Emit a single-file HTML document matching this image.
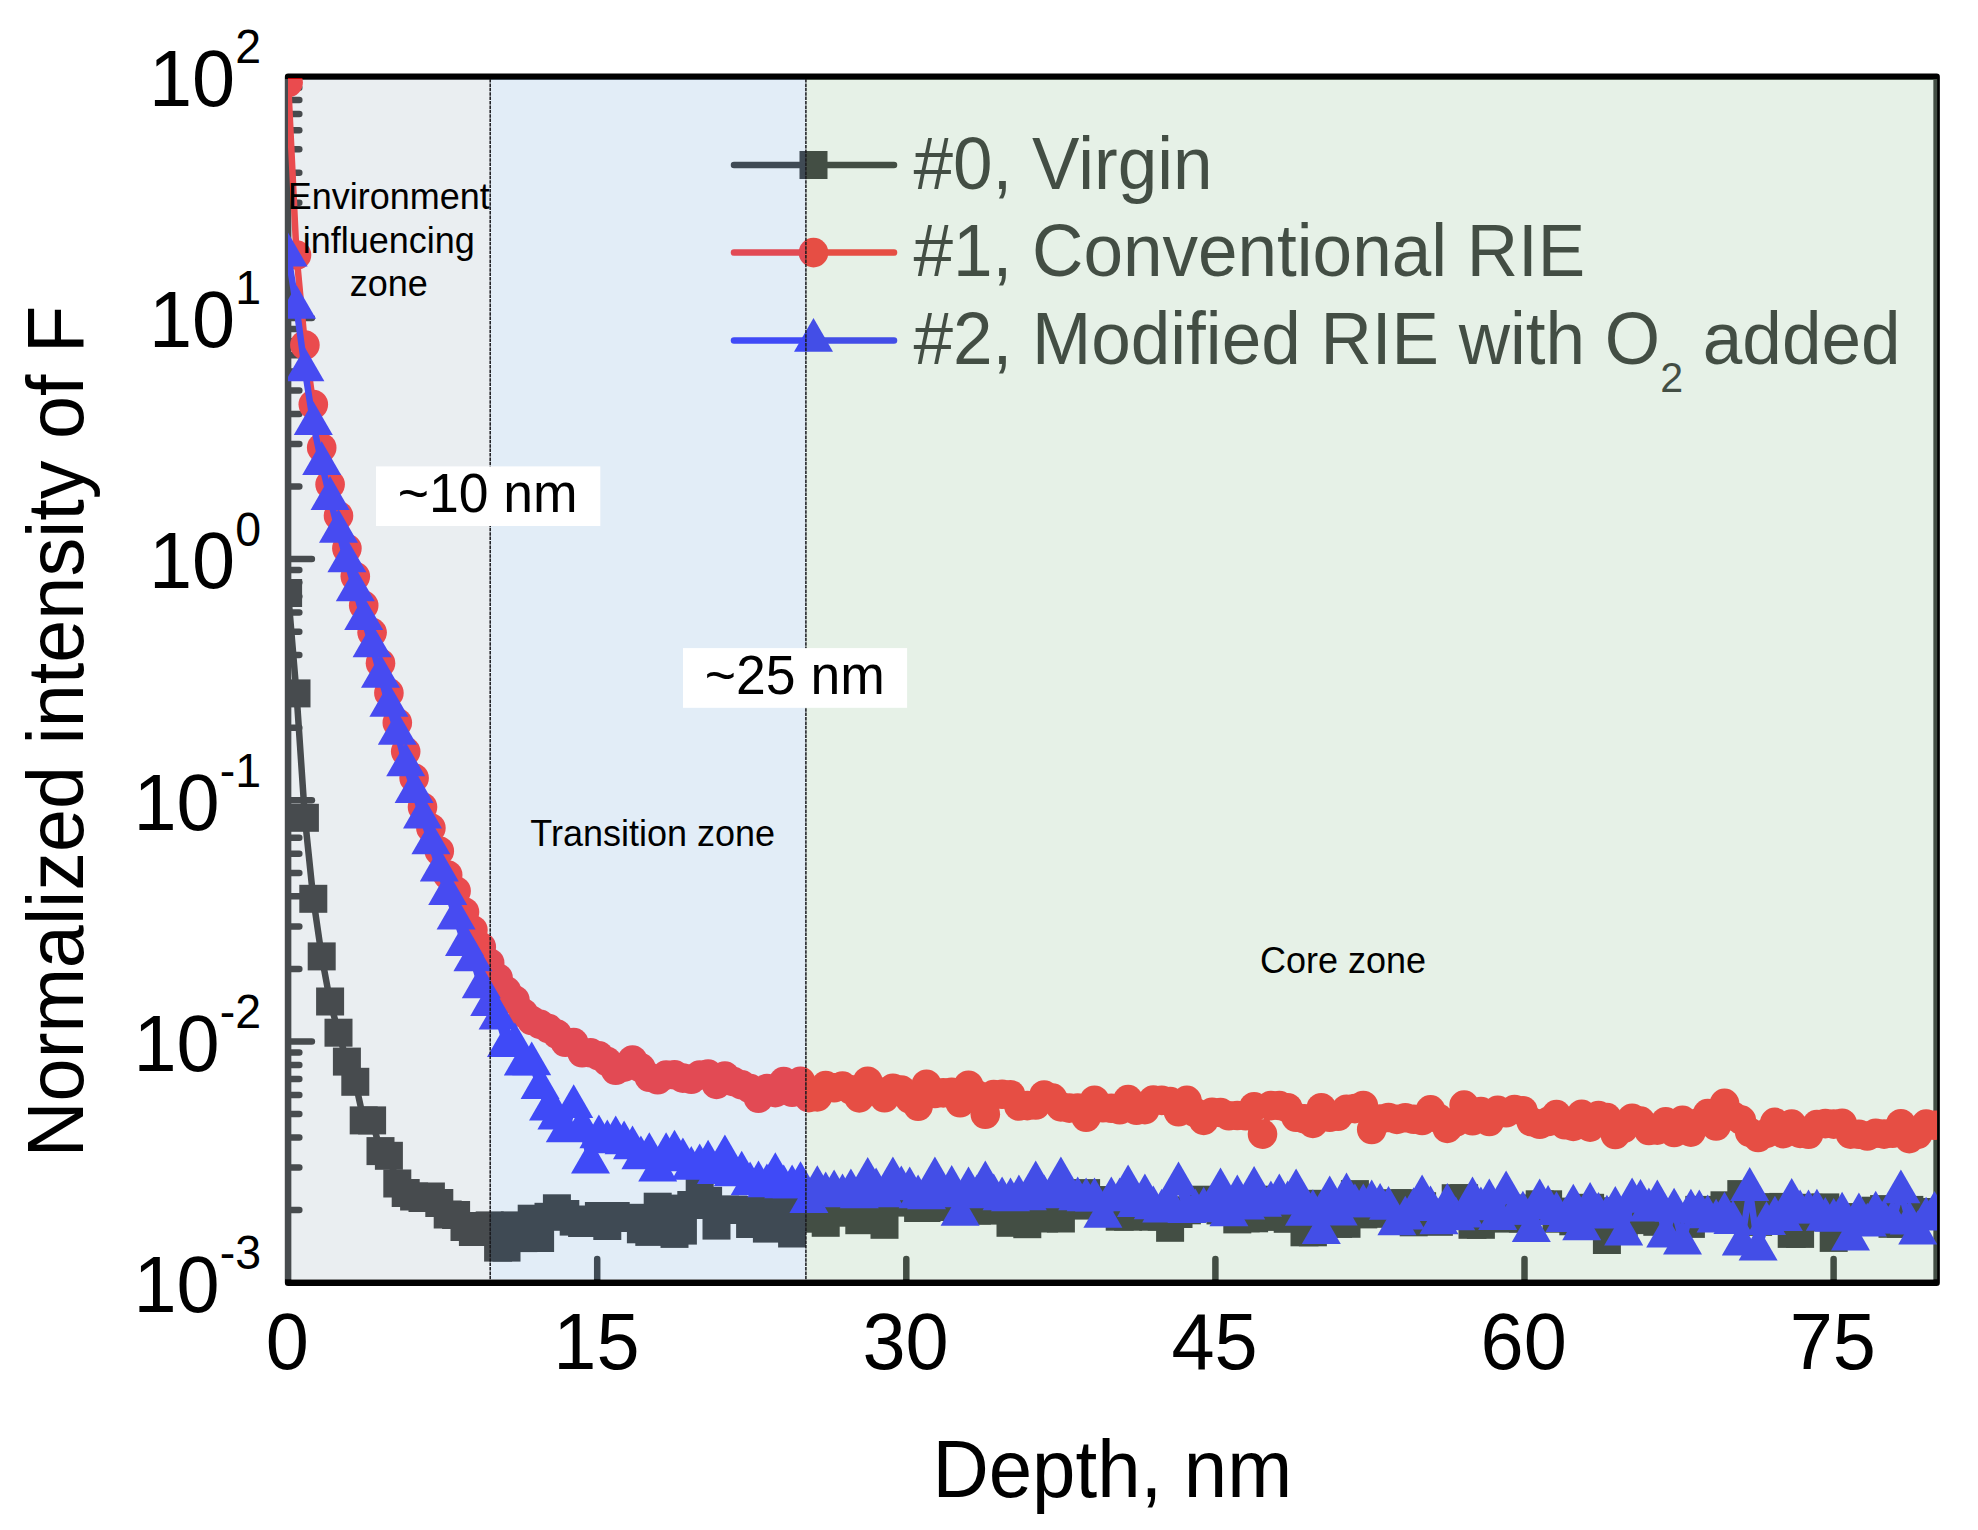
<!DOCTYPE html>
<html lang="en"><head><meta charset="utf-8"><title>Normalized intensity of F vs depth</title>
<style>html,body{margin:0;padding:0;background:#fff}body{width:1978px;height:1530px;overflow:hidden}svg{display:block}text{font-family:"Liberation Sans", Arial, Helvetica, sans-serif;}</style></head><body>
<svg width="1978" height="1530" viewBox="0 0 1978 1530">
<rect width="1978" height="1530" fill="#fff"/>
<defs><clipPath id="pc"><rect x="288.0" y="78.2" width="1649.0" height="1202.8"/></clipPath></defs>
<g stroke="#000" stroke-width="6.5" fill="none" stroke-linecap="round" stroke-linejoin="round">
<rect x="288.1" y="76.7" width="1648.5" height="1206.0"/>
<path d="M290.1 245.3H299.3"/>
<path d="M290.1 202.8H299.3"/>
<path d="M290.1 172.7H299.3"/>
<path d="M290.1 149.3H299.3"/>
<path d="M290.1 130.2H299.3"/>
<path d="M290.1 114.1H299.3"/>
<path d="M290.1 100.1H299.3"/>
<path d="M290.1 87.7H299.3"/>
<path d="M290.1 317.9H311.9"/>
<path d="M290.1 486.5H299.3"/>
<path d="M290.1 444.0H299.3"/>
<path d="M290.1 413.9H299.3"/>
<path d="M290.1 390.5H299.3"/>
<path d="M290.1 371.4H299.3"/>
<path d="M290.1 355.3H299.3"/>
<path d="M290.1 341.3H299.3"/>
<path d="M290.1 328.9H299.3"/>
<path d="M290.1 559.1H311.9"/>
<path d="M290.1 727.7H299.3"/>
<path d="M290.1 685.2H299.3"/>
<path d="M290.1 655.1H299.3"/>
<path d="M290.1 631.7H299.3"/>
<path d="M290.1 612.6H299.3"/>
<path d="M290.1 596.5H299.3"/>
<path d="M290.1 582.5H299.3"/>
<path d="M290.1 570.1H299.3"/>
<path d="M290.1 800.3H311.9"/>
<path d="M290.1 968.9H299.3"/>
<path d="M290.1 926.4H299.3"/>
<path d="M290.1 896.3H299.3"/>
<path d="M290.1 872.9H299.3"/>
<path d="M290.1 853.8H299.3"/>
<path d="M290.1 837.7H299.3"/>
<path d="M290.1 823.7H299.3"/>
<path d="M290.1 811.3H299.3"/>
<path d="M290.1 1041.5H311.9"/>
<path d="M290.1 1210.1H299.3"/>
<path d="M290.1 1167.6H299.3"/>
<path d="M290.1 1137.5H299.3"/>
<path d="M290.1 1114.1H299.3"/>
<path d="M290.1 1095.0H299.3"/>
<path d="M290.1 1078.9H299.3"/>
<path d="M290.1 1064.9H299.3"/>
<path d="M290.1 1052.5H299.3"/>
<path d="M597.2 1280.7v-21.8"/>
<path d="M906.3 1280.7v-21.8"/>
<path d="M1215.4 1280.7v-21.8"/>
<path d="M1524.5 1280.7v-21.8"/>
<path d="M1833.6 1280.7v-21.8"/>
</g>
<g clip-path="url(#pc)">
<polyline points="288.1,593.0 296.5,693.4 304.9,817.8 313.3,898.8 321.7,956.4 330.1,1001.5 338.5,1032.7 346.9,1061.6 355.3,1081.8 363.7,1120.4 372.1,1120.4 380.5,1151.1 388.9,1155.8 397.3,1183.5 405.7,1193.0 414.1,1196.5 422.5,1198.0 430.9,1196.5 439.3,1203.0 447.7,1214.5 456.1,1215.0 464.5,1227.0 472.9,1232.0 481.3,1226.0 489.7,1225.4 498.1,1247.6 506.5,1247.6 514.9,1225.4 523.3,1238.1 531.7,1218.7 540.1,1238.0 548.5,1216.8 556.9,1208.3 565.3,1214.0 573.7,1221.6 582.1,1223.0 590.5,1219.5 598.9,1216.0 607.3,1226.0 615.7,1216.0 624.1,1218.0 632.5,1217.8 640.9,1229.3 649.3,1231.9 657.7,1206.7 666.1,1208.6 674.5,1233.9 682.9,1230.6 691.3,1205.0 699.7,1192.9 708.1,1200.8 716.5,1225.6 724.9,1209.6 733.3,1209.6 741.7,1210.0 750.1,1224.0 758.5,1210.3 766.9,1228.6 775.3,1210.5 783.7,1228.0 792.1,1233.5 800.5,1212.0 808.9,1218.7 817.3,1215.0 825.7,1222.8 834.1,1212.7 842.5,1212.0 850.9,1210.0 859.3,1220.2 867.7,1212.0 876.1,1212.0 884.5,1224.8 892.9,1200.0 901.3,1202.6 909.7,1198.0 918.1,1208.0 926.5,1208.0 934.9,1206.0 943.3,1207.0 951.7,1205.0 960.1,1208.0 968.5,1207.0 976.9,1210.6 985.3,1210.6 993.7,1208.0 1002.1,1210.0 1010.5,1222.8 1018.9,1214.0 1027.3,1224.2 1035.7,1212.0 1044.1,1218.5 1052.5,1216.0 1060.9,1218.5 1069.3,1203.0 1077.7,1205.6 1086.1,1193.1 1094.5,1204.0 1102.9,1200.2 1111.3,1200.2 1119.7,1216.7 1128.1,1216.7 1136.5,1213.9 1144.9,1212.4 1153.3,1216.7 1161.7,1216.7 1170.1,1227.8 1178.5,1214.0 1186.9,1210.3 1195.3,1203.4 1203.7,1199.7 1212.1,1207.1 1220.5,1210.4 1228.9,1211.5 1237.3,1219.4 1245.7,1218.3 1254.1,1218.3 1262.5,1199.7 1270.9,1216.7 1279.3,1216.7 1287.7,1218.8 1296.1,1211.0 1304.5,1232.3 1312.9,1232.3 1321.3,1203.8 1329.7,1219.5 1338.1,1223.8 1346.5,1223.8 1354.9,1194.1 1363.3,1214.4 1371.7,1213.8 1380.1,1213.2 1388.5,1207.1 1396.9,1203.2 1405.3,1203.2 1413.7,1222.3 1422.1,1206.2 1430.5,1212.7 1438.9,1221.8 1447.3,1214.1 1455.7,1198.2 1464.1,1198.2 1472.5,1224.8 1480.9,1224.8 1489.3,1214.6 1497.7,1216.1 1506.1,1218.6 1514.5,1215.0 1522.9,1218.6 1531.3,1208.5 1539.7,1204.3 1548.1,1204.3 1556.5,1218.7 1564.9,1211.6 1573.3,1221.3 1581.7,1211.9 1590.1,1207.8 1598.5,1219.9 1606.9,1240.0 1615.3,1211.3 1623.7,1223.9 1632.1,1220.1 1640.5,1209.3 1648.9,1216.7 1657.3,1221.8 1665.7,1212.8 1674.1,1221.3 1682.5,1220.0 1690.9,1223.9 1699.3,1209.9 1707.7,1210.3 1716.1,1210.3 1724.5,1205.3 1732.9,1216.7 1741.3,1194.1 1749.7,1213.1 1758.1,1221.9 1766.5,1207.3 1774.9,1207.3 1783.3,1206.9 1791.7,1233.9 1800.1,1233.9 1808.5,1207.8 1816.9,1217.3 1825.3,1207.4 1833.7,1237.9 1842.1,1217.4 1850.5,1217.4 1858.9,1217.4 1867.3,1216.7 1875.7,1210.7 1884.1,1209.1 1892.5,1223.8 1900.9,1223.8 1909.3,1209.9 1917.7,1212.3 1926.1,1212.3 1934.5,1212.3" fill="none" stroke="#000" stroke-width="6.5" stroke-linejoin="round"/>
<g fill="#000">
<rect x="274.1" y="579.0" width="28" height="28"/>
<rect x="282.5" y="679.4" width="28" height="28"/>
<rect x="290.9" y="803.8" width="28" height="28"/>
<rect x="299.3" y="884.8" width="28" height="28"/>
<rect x="307.7" y="942.4" width="28" height="28"/>
<rect x="316.1" y="987.5" width="28" height="28"/>
<rect x="324.5" y="1018.7" width="28" height="28"/>
<rect x="332.9" y="1047.6" width="28" height="28"/>
<rect x="341.3" y="1067.8" width="28" height="28"/>
<rect x="349.7" y="1106.4" width="28" height="28"/>
<rect x="358.1" y="1106.4" width="28" height="28"/>
<rect x="366.5" y="1137.1" width="28" height="28"/>
<rect x="374.9" y="1141.8" width="28" height="28"/>
<rect x="383.3" y="1169.5" width="28" height="28"/>
<rect x="391.7" y="1179.0" width="28" height="28"/>
<rect x="400.1" y="1182.5" width="28" height="28"/>
<rect x="408.5" y="1184.0" width="28" height="28"/>
<rect x="416.9" y="1182.5" width="28" height="28"/>
<rect x="425.3" y="1189.0" width="28" height="28"/>
<rect x="433.7" y="1200.5" width="28" height="28"/>
<rect x="442.1" y="1201.0" width="28" height="28"/>
<rect x="450.5" y="1213.0" width="28" height="28"/>
<rect x="458.9" y="1218.0" width="28" height="28"/>
<rect x="467.3" y="1212.0" width="28" height="28"/>
<rect x="475.7" y="1211.4" width="28" height="28"/>
<rect x="484.1" y="1233.6" width="28" height="28"/>
<rect x="492.5" y="1233.6" width="28" height="28"/>
<rect x="500.9" y="1211.4" width="28" height="28"/>
<rect x="509.3" y="1224.1" width="28" height="28"/>
<rect x="517.7" y="1204.7" width="28" height="28"/>
<rect x="526.1" y="1224.0" width="28" height="28"/>
<rect x="534.5" y="1202.8" width="28" height="28"/>
<rect x="542.9" y="1194.3" width="28" height="28"/>
<rect x="551.3" y="1200.0" width="28" height="28"/>
<rect x="559.7" y="1207.6" width="28" height="28"/>
<rect x="568.1" y="1209.0" width="28" height="28"/>
<rect x="576.5" y="1205.5" width="28" height="28"/>
<rect x="584.9" y="1202.0" width="28" height="28"/>
<rect x="593.3" y="1212.0" width="28" height="28"/>
<rect x="601.7" y="1202.0" width="28" height="28"/>
<rect x="610.1" y="1204.0" width="28" height="28"/>
<rect x="618.5" y="1203.8" width="28" height="28"/>
<rect x="626.9" y="1215.3" width="28" height="28"/>
<rect x="635.3" y="1217.9" width="28" height="28"/>
<rect x="643.7" y="1192.7" width="28" height="28"/>
<rect x="652.1" y="1194.6" width="28" height="28"/>
<rect x="660.5" y="1219.9" width="28" height="28"/>
<rect x="668.9" y="1216.6" width="28" height="28"/>
<rect x="677.3" y="1191.0" width="28" height="28"/>
<rect x="685.7" y="1178.9" width="28" height="28"/>
<rect x="694.1" y="1186.8" width="28" height="28"/>
<rect x="702.5" y="1211.6" width="28" height="28"/>
<rect x="710.9" y="1195.6" width="28" height="28"/>
<rect x="719.3" y="1195.6" width="28" height="28"/>
<rect x="727.7" y="1196.0" width="28" height="28"/>
<rect x="736.1" y="1210.0" width="28" height="28"/>
<rect x="744.5" y="1196.3" width="28" height="28"/>
<rect x="752.9" y="1214.6" width="28" height="28"/>
<rect x="761.3" y="1196.5" width="28" height="28"/>
<rect x="769.7" y="1214.0" width="28" height="28"/>
<rect x="778.1" y="1219.5" width="28" height="28"/>
<rect x="786.5" y="1198.0" width="28" height="28"/>
<rect x="794.9" y="1204.7" width="28" height="28"/>
<rect x="803.3" y="1201.0" width="28" height="28"/>
<rect x="811.7" y="1208.8" width="28" height="28"/>
<rect x="820.1" y="1198.7" width="28" height="28"/>
<rect x="828.5" y="1198.0" width="28" height="28"/>
<rect x="836.9" y="1196.0" width="28" height="28"/>
<rect x="845.3" y="1206.2" width="28" height="28"/>
<rect x="853.7" y="1198.0" width="28" height="28"/>
<rect x="862.1" y="1198.0" width="28" height="28"/>
<rect x="870.5" y="1210.8" width="28" height="28"/>
<rect x="878.9" y="1186.0" width="28" height="28"/>
<rect x="887.3" y="1188.6" width="28" height="28"/>
<rect x="895.7" y="1184.0" width="28" height="28"/>
<rect x="904.1" y="1194.0" width="28" height="28"/>
<rect x="912.5" y="1194.0" width="28" height="28"/>
<rect x="920.9" y="1192.0" width="28" height="28"/>
<rect x="929.3" y="1193.0" width="28" height="28"/>
<rect x="937.7" y="1191.0" width="28" height="28"/>
<rect x="946.1" y="1194.0" width="28" height="28"/>
<rect x="954.5" y="1193.0" width="28" height="28"/>
<rect x="962.9" y="1196.6" width="28" height="28"/>
<rect x="971.3" y="1196.6" width="28" height="28"/>
<rect x="979.7" y="1194.0" width="28" height="28"/>
<rect x="988.1" y="1196.0" width="28" height="28"/>
<rect x="996.5" y="1208.8" width="28" height="28"/>
<rect x="1004.9" y="1200.0" width="28" height="28"/>
<rect x="1013.3" y="1210.2" width="28" height="28"/>
<rect x="1021.7" y="1198.0" width="28" height="28"/>
<rect x="1030.1" y="1204.5" width="28" height="28"/>
<rect x="1038.5" y="1202.0" width="28" height="28"/>
<rect x="1046.9" y="1204.5" width="28" height="28"/>
<rect x="1055.3" y="1189.0" width="28" height="28"/>
<rect x="1063.7" y="1191.6" width="28" height="28"/>
<rect x="1072.1" y="1179.1" width="28" height="28"/>
<rect x="1080.5" y="1190.0" width="28" height="28"/>
<rect x="1088.9" y="1186.2" width="28" height="28"/>
<rect x="1097.3" y="1186.2" width="28" height="28"/>
<rect x="1105.7" y="1202.7" width="28" height="28"/>
<rect x="1114.1" y="1202.7" width="28" height="28"/>
<rect x="1122.5" y="1199.9" width="28" height="28"/>
<rect x="1130.9" y="1198.4" width="28" height="28"/>
<rect x="1139.3" y="1202.7" width="28" height="28"/>
<rect x="1147.7" y="1202.7" width="28" height="28"/>
<rect x="1156.1" y="1213.8" width="28" height="28"/>
<rect x="1164.5" y="1200.0" width="28" height="28"/>
<rect x="1172.9" y="1196.3" width="28" height="28"/>
<rect x="1181.3" y="1189.4" width="28" height="28"/>
<rect x="1189.7" y="1185.7" width="28" height="28"/>
<rect x="1198.1" y="1193.1" width="28" height="28"/>
<rect x="1206.5" y="1196.4" width="28" height="28"/>
<rect x="1214.9" y="1197.5" width="28" height="28"/>
<rect x="1223.3" y="1205.4" width="28" height="28"/>
<rect x="1231.7" y="1204.3" width="28" height="28"/>
<rect x="1240.1" y="1204.3" width="28" height="28"/>
<rect x="1248.5" y="1185.7" width="28" height="28"/>
<rect x="1256.9" y="1202.7" width="28" height="28"/>
<rect x="1265.3" y="1202.7" width="28" height="28"/>
<rect x="1273.7" y="1204.8" width="28" height="28"/>
<rect x="1282.1" y="1197.0" width="28" height="28"/>
<rect x="1290.5" y="1218.3" width="28" height="28"/>
<rect x="1298.9" y="1218.3" width="28" height="28"/>
<rect x="1307.3" y="1189.8" width="28" height="28"/>
<rect x="1315.7" y="1205.5" width="28" height="28"/>
<rect x="1324.1" y="1209.8" width="28" height="28"/>
<rect x="1332.5" y="1209.8" width="28" height="28"/>
<rect x="1340.9" y="1180.1" width="28" height="28"/>
<rect x="1349.3" y="1200.4" width="28" height="28"/>
<rect x="1357.7" y="1199.8" width="28" height="28"/>
<rect x="1366.1" y="1199.2" width="28" height="28"/>
<rect x="1374.5" y="1193.1" width="28" height="28"/>
<rect x="1382.9" y="1189.2" width="28" height="28"/>
<rect x="1391.3" y="1189.2" width="28" height="28"/>
<rect x="1399.7" y="1208.3" width="28" height="28"/>
<rect x="1408.1" y="1192.2" width="28" height="28"/>
<rect x="1416.5" y="1198.7" width="28" height="28"/>
<rect x="1424.9" y="1207.8" width="28" height="28"/>
<rect x="1433.3" y="1200.1" width="28" height="28"/>
<rect x="1441.7" y="1184.2" width="28" height="28"/>
<rect x="1450.1" y="1184.2" width="28" height="28"/>
<rect x="1458.5" y="1210.8" width="28" height="28"/>
<rect x="1466.9" y="1210.8" width="28" height="28"/>
<rect x="1475.3" y="1200.6" width="28" height="28"/>
<rect x="1483.7" y="1202.1" width="28" height="28"/>
<rect x="1492.1" y="1204.6" width="28" height="28"/>
<rect x="1500.5" y="1201.0" width="28" height="28"/>
<rect x="1508.9" y="1204.6" width="28" height="28"/>
<rect x="1517.3" y="1194.5" width="28" height="28"/>
<rect x="1525.7" y="1190.3" width="28" height="28"/>
<rect x="1534.1" y="1190.3" width="28" height="28"/>
<rect x="1542.5" y="1204.7" width="28" height="28"/>
<rect x="1550.9" y="1197.6" width="28" height="28"/>
<rect x="1559.3" y="1207.3" width="28" height="28"/>
<rect x="1567.7" y="1197.9" width="28" height="28"/>
<rect x="1576.1" y="1193.8" width="28" height="28"/>
<rect x="1584.5" y="1205.9" width="28" height="28"/>
<rect x="1592.9" y="1226.0" width="28" height="28"/>
<rect x="1601.3" y="1197.3" width="28" height="28"/>
<rect x="1609.7" y="1209.9" width="28" height="28"/>
<rect x="1618.1" y="1206.1" width="28" height="28"/>
<rect x="1626.5" y="1195.3" width="28" height="28"/>
<rect x="1634.9" y="1202.7" width="28" height="28"/>
<rect x="1643.3" y="1207.8" width="28" height="28"/>
<rect x="1651.7" y="1198.8" width="28" height="28"/>
<rect x="1660.1" y="1207.3" width="28" height="28"/>
<rect x="1668.5" y="1206.0" width="28" height="28"/>
<rect x="1676.9" y="1209.9" width="28" height="28"/>
<rect x="1685.3" y="1195.9" width="28" height="28"/>
<rect x="1693.7" y="1196.3" width="28" height="28"/>
<rect x="1702.1" y="1196.3" width="28" height="28"/>
<rect x="1710.5" y="1191.3" width="28" height="28"/>
<rect x="1718.9" y="1202.7" width="28" height="28"/>
<rect x="1727.3" y="1180.1" width="28" height="28"/>
<rect x="1735.7" y="1199.1" width="28" height="28"/>
<rect x="1744.1" y="1207.9" width="28" height="28"/>
<rect x="1752.5" y="1193.3" width="28" height="28"/>
<rect x="1760.9" y="1193.3" width="28" height="28"/>
<rect x="1769.3" y="1192.9" width="28" height="28"/>
<rect x="1777.7" y="1219.9" width="28" height="28"/>
<rect x="1786.1" y="1219.9" width="28" height="28"/>
<rect x="1794.5" y="1193.8" width="28" height="28"/>
<rect x="1802.9" y="1203.3" width="28" height="28"/>
<rect x="1811.3" y="1193.4" width="28" height="28"/>
<rect x="1819.7" y="1223.9" width="28" height="28"/>
<rect x="1828.1" y="1203.4" width="28" height="28"/>
<rect x="1836.5" y="1203.4" width="28" height="28"/>
<rect x="1844.9" y="1203.4" width="28" height="28"/>
<rect x="1853.3" y="1202.7" width="28" height="28"/>
<rect x="1861.7" y="1196.7" width="28" height="28"/>
<rect x="1870.1" y="1195.1" width="28" height="28"/>
<rect x="1878.5" y="1209.8" width="28" height="28"/>
<rect x="1886.9" y="1209.8" width="28" height="28"/>
<rect x="1895.3" y="1195.9" width="28" height="28"/>
<rect x="1903.7" y="1198.3" width="28" height="28"/>
<rect x="1912.1" y="1198.3" width="28" height="28"/>
<rect x="1920.5" y="1198.3" width="28" height="28"/>
</g>
<polyline points="288.1,82.5 296.5,255.0 304.9,345.0 313.3,404.5 321.7,447.8 330.1,484.4 338.5,515.8 346.9,548.5 355.3,576.5 363.7,605.4 372.1,632.6 380.5,663.2 388.9,692.9 397.3,722.7 405.7,751.6 414.1,778.0 422.5,807.0 430.9,828.0 439.3,851.0 447.7,875.0 456.1,891.0 464.5,912.0 472.9,930.0 481.3,947.0 489.7,963.0 498.1,978.0 506.5,990.9 514.9,1000.0 523.3,1013.0 531.7,1020.5 540.1,1024.3 548.5,1028.6 556.9,1034.0 565.3,1042.3 573.7,1042.6 582.1,1052.8 590.5,1052.8 598.9,1055.8 607.3,1061.6 615.7,1070.3 624.1,1067.1 632.5,1060.0 640.9,1067.9 649.3,1077.2 657.7,1079.8 666.1,1075.1 674.5,1074.8 682.9,1078.1 691.3,1079.3 699.7,1075.0 708.1,1074.0 716.5,1084.4 724.9,1076.0 733.3,1081.6 741.7,1084.7 750.1,1088.5 758.5,1098.3 766.9,1088.6 775.3,1092.6 783.7,1081.6 792.1,1092.2 800.5,1081.3 808.9,1097.6 817.3,1096.9 825.7,1085.6 834.1,1087.8 842.5,1086.1 850.9,1089.8 859.3,1097.9 867.7,1081.2 876.1,1090.7 884.5,1097.7 892.9,1088.2 901.3,1090.0 909.7,1098.8 918.1,1106.2 926.5,1084.2 934.9,1093.5 943.3,1092.9 951.7,1092.3 960.1,1102.8 968.5,1085.2 976.9,1094.9 985.3,1114.3 993.7,1094.6 1002.1,1094.2 1010.5,1094.8 1018.9,1106.0 1027.3,1105.6 1035.7,1105.0 1044.1,1095.0 1052.5,1098.1 1060.9,1106.9 1069.3,1108.1 1077.7,1108.1 1086.1,1117.3 1094.5,1100.3 1102.9,1107.8 1111.3,1108.2 1119.7,1109.7 1128.1,1099.6 1136.5,1110.3 1144.9,1109.6 1153.3,1100.0 1161.7,1100.4 1170.1,1101.5 1178.5,1111.7 1186.9,1100.4 1195.3,1112.6 1203.7,1120.4 1212.1,1112.3 1220.5,1112.5 1228.9,1115.8 1237.3,1115.5 1245.7,1115.7 1254.1,1106.8 1262.5,1134.1 1270.9,1105.6 1279.3,1105.5 1287.7,1107.7 1296.1,1117.3 1304.5,1118.8 1312.9,1123.4 1321.3,1107.8 1329.7,1117.2 1338.1,1116.3 1346.5,1109.3 1354.9,1108.6 1363.3,1105.5 1371.7,1129.5 1380.1,1119.1 1388.5,1117.5 1396.9,1119.4 1405.3,1117.8 1413.7,1119.3 1422.1,1120.5 1430.5,1109.9 1438.9,1118.6 1447.3,1128.4 1455.7,1122.1 1464.1,1105.1 1472.5,1120.7 1480.9,1111.6 1489.3,1121.5 1497.7,1110.2 1506.1,1112.7 1514.5,1109.5 1522.9,1110.8 1531.3,1121.7 1539.7,1124.2 1548.1,1121.5 1556.5,1114.6 1564.9,1124.7 1573.3,1126.4 1581.7,1114.3 1590.1,1127.1 1598.5,1115.6 1606.9,1117.6 1615.3,1134.5 1623.7,1128.2 1632.1,1118.2 1640.5,1121.1 1648.9,1130.5 1657.3,1130.1 1665.7,1121.7 1674.1,1132.5 1682.5,1120.2 1690.9,1132.1 1699.3,1122.5 1707.7,1113.6 1716.1,1126.0 1724.5,1103.4 1732.9,1116.0 1741.3,1120.1 1749.7,1132.3 1758.1,1137.5 1766.5,1133.3 1774.9,1122.4 1783.3,1133.6 1791.7,1124.1 1800.1,1133.4 1808.5,1134.2 1816.9,1124.6 1825.3,1123.6 1833.7,1124.1 1842.1,1123.3 1850.5,1134.1 1858.9,1134.2 1867.3,1136.0 1875.7,1133.2 1884.1,1134.1 1892.5,1133.3 1900.9,1123.8 1909.3,1138.6 1917.7,1134.2 1926.1,1124.1 1934.5,1125.2" fill="none" stroke="#f00" stroke-width="6.5" stroke-linejoin="round"/>
<g fill="#f00">
<circle cx="288.1" cy="82.5" r="14.8"/>
<circle cx="296.5" cy="255.0" r="14.8"/>
<circle cx="304.9" cy="345.0" r="14.8"/>
<circle cx="313.3" cy="404.5" r="14.8"/>
<circle cx="321.7" cy="447.8" r="14.8"/>
<circle cx="330.1" cy="484.4" r="14.8"/>
<circle cx="338.5" cy="515.8" r="14.8"/>
<circle cx="346.9" cy="548.5" r="14.8"/>
<circle cx="355.3" cy="576.5" r="14.8"/>
<circle cx="363.7" cy="605.4" r="14.8"/>
<circle cx="372.1" cy="632.6" r="14.8"/>
<circle cx="380.5" cy="663.2" r="14.8"/>
<circle cx="388.9" cy="692.9" r="14.8"/>
<circle cx="397.3" cy="722.7" r="14.8"/>
<circle cx="405.7" cy="751.6" r="14.8"/>
<circle cx="414.1" cy="778.0" r="14.8"/>
<circle cx="422.5" cy="807.0" r="14.8"/>
<circle cx="430.9" cy="828.0" r="14.8"/>
<circle cx="439.3" cy="851.0" r="14.8"/>
<circle cx="447.7" cy="875.0" r="14.8"/>
<circle cx="456.1" cy="891.0" r="14.8"/>
<circle cx="464.5" cy="912.0" r="14.8"/>
<circle cx="472.9" cy="930.0" r="14.8"/>
<circle cx="481.3" cy="947.0" r="14.8"/>
<circle cx="489.7" cy="963.0" r="14.8"/>
<circle cx="498.1" cy="978.0" r="14.8"/>
<circle cx="506.5" cy="990.9" r="14.8"/>
<circle cx="514.9" cy="1000.0" r="14.8"/>
<circle cx="523.3" cy="1013.0" r="14.8"/>
<circle cx="531.7" cy="1020.5" r="14.8"/>
<circle cx="540.1" cy="1024.3" r="14.8"/>
<circle cx="548.5" cy="1028.6" r="14.8"/>
<circle cx="556.9" cy="1034.0" r="14.8"/>
<circle cx="565.3" cy="1042.3" r="14.8"/>
<circle cx="573.7" cy="1042.6" r="14.8"/>
<circle cx="582.1" cy="1052.8" r="14.8"/>
<circle cx="590.5" cy="1052.8" r="14.8"/>
<circle cx="598.9" cy="1055.8" r="14.8"/>
<circle cx="607.3" cy="1061.6" r="14.8"/>
<circle cx="615.7" cy="1070.3" r="14.8"/>
<circle cx="624.1" cy="1067.1" r="14.8"/>
<circle cx="632.5" cy="1060.0" r="14.8"/>
<circle cx="640.9" cy="1067.9" r="14.8"/>
<circle cx="649.3" cy="1077.2" r="14.8"/>
<circle cx="657.7" cy="1079.8" r="14.8"/>
<circle cx="666.1" cy="1075.1" r="14.8"/>
<circle cx="674.5" cy="1074.8" r="14.8"/>
<circle cx="682.9" cy="1078.1" r="14.8"/>
<circle cx="691.3" cy="1079.3" r="14.8"/>
<circle cx="699.7" cy="1075.0" r="14.8"/>
<circle cx="708.1" cy="1074.0" r="14.8"/>
<circle cx="716.5" cy="1084.4" r="14.8"/>
<circle cx="724.9" cy="1076.0" r="14.8"/>
<circle cx="733.3" cy="1081.6" r="14.8"/>
<circle cx="741.7" cy="1084.7" r="14.8"/>
<circle cx="750.1" cy="1088.5" r="14.8"/>
<circle cx="758.5" cy="1098.3" r="14.8"/>
<circle cx="766.9" cy="1088.6" r="14.8"/>
<circle cx="775.3" cy="1092.6" r="14.8"/>
<circle cx="783.7" cy="1081.6" r="14.8"/>
<circle cx="792.1" cy="1092.2" r="14.8"/>
<circle cx="800.5" cy="1081.3" r="14.8"/>
<circle cx="808.9" cy="1097.6" r="14.8"/>
<circle cx="817.3" cy="1096.9" r="14.8"/>
<circle cx="825.7" cy="1085.6" r="14.8"/>
<circle cx="834.1" cy="1087.8" r="14.8"/>
<circle cx="842.5" cy="1086.1" r="14.8"/>
<circle cx="850.9" cy="1089.8" r="14.8"/>
<circle cx="859.3" cy="1097.9" r="14.8"/>
<circle cx="867.7" cy="1081.2" r="14.8"/>
<circle cx="876.1" cy="1090.7" r="14.8"/>
<circle cx="884.5" cy="1097.7" r="14.8"/>
<circle cx="892.9" cy="1088.2" r="14.8"/>
<circle cx="901.3" cy="1090.0" r="14.8"/>
<circle cx="909.7" cy="1098.8" r="14.8"/>
<circle cx="918.1" cy="1106.2" r="14.8"/>
<circle cx="926.5" cy="1084.2" r="14.8"/>
<circle cx="934.9" cy="1093.5" r="14.8"/>
<circle cx="943.3" cy="1092.9" r="14.8"/>
<circle cx="951.7" cy="1092.3" r="14.8"/>
<circle cx="960.1" cy="1102.8" r="14.8"/>
<circle cx="968.5" cy="1085.2" r="14.8"/>
<circle cx="976.9" cy="1094.9" r="14.8"/>
<circle cx="985.3" cy="1114.3" r="14.8"/>
<circle cx="993.7" cy="1094.6" r="14.8"/>
<circle cx="1002.1" cy="1094.2" r="14.8"/>
<circle cx="1010.5" cy="1094.8" r="14.8"/>
<circle cx="1018.9" cy="1106.0" r="14.8"/>
<circle cx="1027.3" cy="1105.6" r="14.8"/>
<circle cx="1035.7" cy="1105.0" r="14.8"/>
<circle cx="1044.1" cy="1095.0" r="14.8"/>
<circle cx="1052.5" cy="1098.1" r="14.8"/>
<circle cx="1060.9" cy="1106.9" r="14.8"/>
<circle cx="1069.3" cy="1108.1" r="14.8"/>
<circle cx="1077.7" cy="1108.1" r="14.8"/>
<circle cx="1086.1" cy="1117.3" r="14.8"/>
<circle cx="1094.5" cy="1100.3" r="14.8"/>
<circle cx="1102.9" cy="1107.8" r="14.8"/>
<circle cx="1111.3" cy="1108.2" r="14.8"/>
<circle cx="1119.7" cy="1109.7" r="14.8"/>
<circle cx="1128.1" cy="1099.6" r="14.8"/>
<circle cx="1136.5" cy="1110.3" r="14.8"/>
<circle cx="1144.9" cy="1109.6" r="14.8"/>
<circle cx="1153.3" cy="1100.0" r="14.8"/>
<circle cx="1161.7" cy="1100.4" r="14.8"/>
<circle cx="1170.1" cy="1101.5" r="14.8"/>
<circle cx="1178.5" cy="1111.7" r="14.8"/>
<circle cx="1186.9" cy="1100.4" r="14.8"/>
<circle cx="1195.3" cy="1112.6" r="14.8"/>
<circle cx="1203.7" cy="1120.4" r="14.8"/>
<circle cx="1212.1" cy="1112.3" r="14.8"/>
<circle cx="1220.5" cy="1112.5" r="14.8"/>
<circle cx="1228.9" cy="1115.8" r="14.8"/>
<circle cx="1237.3" cy="1115.5" r="14.8"/>
<circle cx="1245.7" cy="1115.7" r="14.8"/>
<circle cx="1254.1" cy="1106.8" r="14.8"/>
<circle cx="1262.5" cy="1134.1" r="14.8"/>
<circle cx="1270.9" cy="1105.6" r="14.8"/>
<circle cx="1279.3" cy="1105.5" r="14.8"/>
<circle cx="1287.7" cy="1107.7" r="14.8"/>
<circle cx="1296.1" cy="1117.3" r="14.8"/>
<circle cx="1304.5" cy="1118.8" r="14.8"/>
<circle cx="1312.9" cy="1123.4" r="14.8"/>
<circle cx="1321.3" cy="1107.8" r="14.8"/>
<circle cx="1329.7" cy="1117.2" r="14.8"/>
<circle cx="1338.1" cy="1116.3" r="14.8"/>
<circle cx="1346.5" cy="1109.3" r="14.8"/>
<circle cx="1354.9" cy="1108.6" r="14.8"/>
<circle cx="1363.3" cy="1105.5" r="14.8"/>
<circle cx="1371.7" cy="1129.5" r="14.8"/>
<circle cx="1380.1" cy="1119.1" r="14.8"/>
<circle cx="1388.5" cy="1117.5" r="14.8"/>
<circle cx="1396.9" cy="1119.4" r="14.8"/>
<circle cx="1405.3" cy="1117.8" r="14.8"/>
<circle cx="1413.7" cy="1119.3" r="14.8"/>
<circle cx="1422.1" cy="1120.5" r="14.8"/>
<circle cx="1430.5" cy="1109.9" r="14.8"/>
<circle cx="1438.9" cy="1118.6" r="14.8"/>
<circle cx="1447.3" cy="1128.4" r="14.8"/>
<circle cx="1455.7" cy="1122.1" r="14.8"/>
<circle cx="1464.1" cy="1105.1" r="14.8"/>
<circle cx="1472.5" cy="1120.7" r="14.8"/>
<circle cx="1480.9" cy="1111.6" r="14.8"/>
<circle cx="1489.3" cy="1121.5" r="14.8"/>
<circle cx="1497.7" cy="1110.2" r="14.8"/>
<circle cx="1506.1" cy="1112.7" r="14.8"/>
<circle cx="1514.5" cy="1109.5" r="14.8"/>
<circle cx="1522.9" cy="1110.8" r="14.8"/>
<circle cx="1531.3" cy="1121.7" r="14.8"/>
<circle cx="1539.7" cy="1124.2" r="14.8"/>
<circle cx="1548.1" cy="1121.5" r="14.8"/>
<circle cx="1556.5" cy="1114.6" r="14.8"/>
<circle cx="1564.9" cy="1124.7" r="14.8"/>
<circle cx="1573.3" cy="1126.4" r="14.8"/>
<circle cx="1581.7" cy="1114.3" r="14.8"/>
<circle cx="1590.1" cy="1127.1" r="14.8"/>
<circle cx="1598.5" cy="1115.6" r="14.8"/>
<circle cx="1606.9" cy="1117.6" r="14.8"/>
<circle cx="1615.3" cy="1134.5" r="14.8"/>
<circle cx="1623.7" cy="1128.2" r="14.8"/>
<circle cx="1632.1" cy="1118.2" r="14.8"/>
<circle cx="1640.5" cy="1121.1" r="14.8"/>
<circle cx="1648.9" cy="1130.5" r="14.8"/>
<circle cx="1657.3" cy="1130.1" r="14.8"/>
<circle cx="1665.7" cy="1121.7" r="14.8"/>
<circle cx="1674.1" cy="1132.5" r="14.8"/>
<circle cx="1682.5" cy="1120.2" r="14.8"/>
<circle cx="1690.9" cy="1132.1" r="14.8"/>
<circle cx="1699.3" cy="1122.5" r="14.8"/>
<circle cx="1707.7" cy="1113.6" r="14.8"/>
<circle cx="1716.1" cy="1126.0" r="14.8"/>
<circle cx="1724.5" cy="1103.4" r="14.8"/>
<circle cx="1732.9" cy="1116.0" r="14.8"/>
<circle cx="1741.3" cy="1120.1" r="14.8"/>
<circle cx="1749.7" cy="1132.3" r="14.8"/>
<circle cx="1758.1" cy="1137.5" r="14.8"/>
<circle cx="1766.5" cy="1133.3" r="14.8"/>
<circle cx="1774.9" cy="1122.4" r="14.8"/>
<circle cx="1783.3" cy="1133.6" r="14.8"/>
<circle cx="1791.7" cy="1124.1" r="14.8"/>
<circle cx="1800.1" cy="1133.4" r="14.8"/>
<circle cx="1808.5" cy="1134.2" r="14.8"/>
<circle cx="1816.9" cy="1124.6" r="14.8"/>
<circle cx="1825.3" cy="1123.6" r="14.8"/>
<circle cx="1833.7" cy="1124.1" r="14.8"/>
<circle cx="1842.1" cy="1123.3" r="14.8"/>
<circle cx="1850.5" cy="1134.1" r="14.8"/>
<circle cx="1858.9" cy="1134.2" r="14.8"/>
<circle cx="1867.3" cy="1136.0" r="14.8"/>
<circle cx="1875.7" cy="1133.2" r="14.8"/>
<circle cx="1884.1" cy="1134.1" r="14.8"/>
<circle cx="1892.5" cy="1133.3" r="14.8"/>
<circle cx="1900.9" cy="1123.8" r="14.8"/>
<circle cx="1909.3" cy="1138.6" r="14.8"/>
<circle cx="1917.7" cy="1134.2" r="14.8"/>
<circle cx="1926.1" cy="1124.1" r="14.8"/>
<circle cx="1934.5" cy="1125.2" r="14.8"/>
</g>
<polyline points="288.1,255.2 296.5,307.4 304.9,369.9 313.3,423.8 321.7,463.7 330.1,498.6 338.5,531.5 346.9,561.0 355.3,589.9 363.7,618.8 372.1,645.9 380.5,676.5 388.9,705.4 397.3,733.5 405.7,764.9 414.1,791.6 422.5,817.1 430.9,843.0 439.3,870.1 447.7,893.6 456.1,918.2 464.5,944.6 472.9,959.9 481.3,987.0 489.7,1004.6 498.1,1018.3 506.5,1045.6 514.9,1045.0 523.3,1064.2 531.7,1064.0 540.1,1087.7 548.5,1109.3 556.9,1118.1 565.3,1130.9 573.7,1106.8 582.1,1128.0 590.5,1162.2 598.9,1137.0 607.3,1142.0 615.7,1138.0 624.1,1143.0 632.5,1148.0 640.9,1158.0 649.3,1154.8 657.7,1170.2 666.1,1154.8 674.5,1152.3 682.9,1160.0 691.3,1168.5 699.7,1166.0 708.1,1162.3 716.5,1172.8 724.9,1156.9 733.3,1175.0 741.7,1173.3 750.1,1184.0 758.5,1183.0 766.9,1186.0 775.3,1174.8 783.7,1187.0 792.1,1187.0 800.5,1183.8 808.9,1201.7 817.3,1187.8 825.7,1194.1 834.1,1192.0 842.5,1196.0 850.9,1191.0 859.3,1197.0 867.7,1179.5 876.1,1190.0 884.5,1196.0 892.9,1178.9 901.3,1188.0 909.7,1189.0 918.1,1197.0 926.5,1198.0 934.9,1178.9 943.3,1196.0 951.7,1187.6 960.1,1214.5 968.5,1189.0 976.9,1197.0 985.3,1182.9 993.7,1196.0 1002.1,1199.0 1010.5,1200.0 1018.9,1197.1 1027.3,1199.0 1035.7,1182.9 1044.1,1197.0 1052.5,1196.0 1060.9,1178.9 1069.3,1196.0 1077.7,1199.0 1086.1,1200.0 1094.5,1200.1 1102.9,1216.5 1111.3,1199.0 1119.7,1200.0 1128.1,1187.0 1136.5,1205.8 1144.9,1196.1 1153.3,1208.1 1161.7,1211.3 1170.1,1205.8 1178.5,1183.9 1186.9,1211.8 1195.3,1211.1 1203.7,1209.3 1212.1,1205.6 1220.5,1190.0 1228.9,1215.0 1237.3,1197.1 1245.7,1208.3 1254.1,1188.4 1262.5,1205.4 1270.9,1202.9 1279.3,1196.1 1287.7,1203.1 1296.1,1191.0 1304.5,1214.4 1312.9,1211.8 1321.3,1232.7 1329.7,1198.1 1338.1,1214.1 1346.5,1195.1 1354.9,1205.9 1363.3,1205.9 1371.7,1202.1 1380.1,1205.5 1388.5,1208.5 1396.9,1224.0 1405.3,1218.2 1413.7,1209.7 1422.1,1197.1 1430.5,1208.2 1438.9,1222.9 1447.3,1205.5 1455.7,1218.9 1464.1,1216.3 1472.5,1199.1 1480.9,1208.9 1489.3,1201.1 1497.7,1218.6 1506.1,1193.0 1514.5,1213.6 1522.9,1213.3 1531.3,1230.6 1539.7,1201.1 1548.1,1207.6 1556.5,1213.7 1564.9,1220.7 1573.3,1206.2 1581.7,1229.0 1590.1,1204.6 1598.5,1214.5 1606.9,1217.2 1615.3,1208.6 1623.7,1234.1 1632.1,1200.1 1640.5,1201.5 1648.9,1210.1 1657.3,1202.1 1665.7,1236.1 1674.1,1210.2 1682.5,1243.2 1690.9,1211.2 1699.3,1212.1 1707.7,1216.9 1716.1,1221.2 1724.5,1214.3 1732.9,1222.6 1741.3,1244.2 1749.7,1189.6 1758.1,1249.2 1766.5,1223.7 1774.9,1218.2 1783.3,1219.7 1791.7,1200.5 1800.1,1212.1 1808.5,1212.0 1816.9,1211.2 1825.3,1219.5 1833.7,1220.4 1842.1,1214.3 1850.5,1239.1 1858.9,1214.9 1867.3,1225.4 1875.7,1213.3 1884.1,1222.0 1892.5,1222.1 1900.9,1192.0 1909.3,1223.1 1917.7,1233.1 1926.1,1219.3 1934.5,1213.5" fill="none" stroke="#00f" stroke-width="6.5" stroke-linejoin="round"/>
<g fill="#00f">
<path d="M288.1 232.7l19.5 33.8h-39.0z"/>
<path d="M296.5 284.9l19.5 33.8h-39.0z"/>
<path d="M304.9 347.4l19.5 33.8h-39.0z"/>
<path d="M313.3 401.3l19.5 33.8h-39.0z"/>
<path d="M321.7 441.2l19.5 33.8h-39.0z"/>
<path d="M330.1 476.1l19.5 33.8h-39.0z"/>
<path d="M338.5 509.0l19.5 33.8h-39.0z"/>
<path d="M346.9 538.5l19.5 33.8h-39.0z"/>
<path d="M355.3 567.4l19.5 33.8h-39.0z"/>
<path d="M363.7 596.3l19.5 33.8h-39.0z"/>
<path d="M372.1 623.4l19.5 33.8h-39.0z"/>
<path d="M380.5 654.0l19.5 33.8h-39.0z"/>
<path d="M388.9 682.9l19.5 33.8h-39.0z"/>
<path d="M397.3 711.0l19.5 33.8h-39.0z"/>
<path d="M405.7 742.4l19.5 33.8h-39.0z"/>
<path d="M414.1 769.1l19.5 33.8h-39.0z"/>
<path d="M422.5 794.6l19.5 33.8h-39.0z"/>
<path d="M430.9 820.5l19.5 33.8h-39.0z"/>
<path d="M439.3 847.6l19.5 33.8h-39.0z"/>
<path d="M447.7 871.1l19.5 33.8h-39.0z"/>
<path d="M456.1 895.7l19.5 33.8h-39.0z"/>
<path d="M464.5 922.1l19.5 33.8h-39.0z"/>
<path d="M472.9 937.4l19.5 33.8h-39.0z"/>
<path d="M481.3 964.5l19.5 33.8h-39.0z"/>
<path d="M489.7 982.1l19.5 33.8h-39.0z"/>
<path d="M498.1 995.8l19.5 33.8h-39.0z"/>
<path d="M506.5 1023.1l19.5 33.8h-39.0z"/>
<path d="M514.9 1022.5l19.5 33.8h-39.0z"/>
<path d="M523.3 1041.7l19.5 33.8h-39.0z"/>
<path d="M531.7 1041.5l19.5 33.8h-39.0z"/>
<path d="M540.1 1065.2l19.5 33.8h-39.0z"/>
<path d="M548.5 1086.8l19.5 33.8h-39.0z"/>
<path d="M556.9 1095.6l19.5 33.8h-39.0z"/>
<path d="M565.3 1108.4l19.5 33.8h-39.0z"/>
<path d="M573.7 1084.3l19.5 33.8h-39.0z"/>
<path d="M582.1 1105.5l19.5 33.8h-39.0z"/>
<path d="M590.5 1139.7l19.5 33.8h-39.0z"/>
<path d="M598.9 1114.5l19.5 33.8h-39.0z"/>
<path d="M607.3 1119.5l19.5 33.8h-39.0z"/>
<path d="M615.7 1115.5l19.5 33.8h-39.0z"/>
<path d="M624.1 1120.5l19.5 33.8h-39.0z"/>
<path d="M632.5 1125.5l19.5 33.8h-39.0z"/>
<path d="M640.9 1135.5l19.5 33.8h-39.0z"/>
<path d="M649.3 1132.3l19.5 33.8h-39.0z"/>
<path d="M657.7 1147.7l19.5 33.8h-39.0z"/>
<path d="M666.1 1132.3l19.5 33.8h-39.0z"/>
<path d="M674.5 1129.8l19.5 33.8h-39.0z"/>
<path d="M682.9 1137.5l19.5 33.8h-39.0z"/>
<path d="M691.3 1146.0l19.5 33.8h-39.0z"/>
<path d="M699.7 1143.5l19.5 33.8h-39.0z"/>
<path d="M708.1 1139.8l19.5 33.8h-39.0z"/>
<path d="M716.5 1150.3l19.5 33.8h-39.0z"/>
<path d="M724.9 1134.4l19.5 33.8h-39.0z"/>
<path d="M733.3 1152.5l19.5 33.8h-39.0z"/>
<path d="M741.7 1150.8l19.5 33.8h-39.0z"/>
<path d="M750.1 1161.5l19.5 33.8h-39.0z"/>
<path d="M758.5 1160.5l19.5 33.8h-39.0z"/>
<path d="M766.9 1163.5l19.5 33.8h-39.0z"/>
<path d="M775.3 1152.3l19.5 33.8h-39.0z"/>
<path d="M783.7 1164.5l19.5 33.8h-39.0z"/>
<path d="M792.1 1164.5l19.5 33.8h-39.0z"/>
<path d="M800.5 1161.3l19.5 33.8h-39.0z"/>
<path d="M808.9 1179.2l19.5 33.8h-39.0z"/>
<path d="M817.3 1165.3l19.5 33.8h-39.0z"/>
<path d="M825.7 1171.6l19.5 33.8h-39.0z"/>
<path d="M834.1 1169.5l19.5 33.8h-39.0z"/>
<path d="M842.5 1173.5l19.5 33.8h-39.0z"/>
<path d="M850.9 1168.5l19.5 33.8h-39.0z"/>
<path d="M859.3 1174.5l19.5 33.8h-39.0z"/>
<path d="M867.7 1157.0l19.5 33.8h-39.0z"/>
<path d="M876.1 1167.5l19.5 33.8h-39.0z"/>
<path d="M884.5 1173.5l19.5 33.8h-39.0z"/>
<path d="M892.9 1156.4l19.5 33.8h-39.0z"/>
<path d="M901.3 1165.5l19.5 33.8h-39.0z"/>
<path d="M909.7 1166.5l19.5 33.8h-39.0z"/>
<path d="M918.1 1174.5l19.5 33.8h-39.0z"/>
<path d="M926.5 1175.5l19.5 33.8h-39.0z"/>
<path d="M934.9 1156.4l19.5 33.8h-39.0z"/>
<path d="M943.3 1173.5l19.5 33.8h-39.0z"/>
<path d="M951.7 1165.1l19.5 33.8h-39.0z"/>
<path d="M960.1 1192.0l19.5 33.8h-39.0z"/>
<path d="M968.5 1166.5l19.5 33.8h-39.0z"/>
<path d="M976.9 1174.5l19.5 33.8h-39.0z"/>
<path d="M985.3 1160.4l19.5 33.8h-39.0z"/>
<path d="M993.7 1173.5l19.5 33.8h-39.0z"/>
<path d="M1002.1 1176.5l19.5 33.8h-39.0z"/>
<path d="M1010.5 1177.5l19.5 33.8h-39.0z"/>
<path d="M1018.9 1174.6l19.5 33.8h-39.0z"/>
<path d="M1027.3 1176.5l19.5 33.8h-39.0z"/>
<path d="M1035.7 1160.4l19.5 33.8h-39.0z"/>
<path d="M1044.1 1174.5l19.5 33.8h-39.0z"/>
<path d="M1052.5 1173.5l19.5 33.8h-39.0z"/>
<path d="M1060.9 1156.4l19.5 33.8h-39.0z"/>
<path d="M1069.3 1173.5l19.5 33.8h-39.0z"/>
<path d="M1077.7 1176.5l19.5 33.8h-39.0z"/>
<path d="M1086.1 1177.5l19.5 33.8h-39.0z"/>
<path d="M1094.5 1177.6l19.5 33.8h-39.0z"/>
<path d="M1102.9 1194.0l19.5 33.8h-39.0z"/>
<path d="M1111.3 1176.5l19.5 33.8h-39.0z"/>
<path d="M1119.7 1177.5l19.5 33.8h-39.0z"/>
<path d="M1128.1 1164.5l19.5 33.8h-39.0z"/>
<path d="M1136.5 1183.2l19.5 33.8h-39.0z"/>
<path d="M1144.9 1173.6l19.5 33.8h-39.0z"/>
<path d="M1153.3 1185.5l19.5 33.8h-39.0z"/>
<path d="M1161.7 1188.7l19.5 33.8h-39.0z"/>
<path d="M1170.1 1183.2l19.5 33.8h-39.0z"/>
<path d="M1178.5 1161.4l19.5 33.8h-39.0z"/>
<path d="M1186.9 1189.3l19.5 33.8h-39.0z"/>
<path d="M1195.3 1188.5l19.5 33.8h-39.0z"/>
<path d="M1203.7 1186.8l19.5 33.8h-39.0z"/>
<path d="M1212.1 1183.0l19.5 33.8h-39.0z"/>
<path d="M1220.5 1167.5l19.5 33.8h-39.0z"/>
<path d="M1228.9 1192.5l19.5 33.8h-39.0z"/>
<path d="M1237.3 1174.6l19.5 33.8h-39.0z"/>
<path d="M1245.7 1185.8l19.5 33.8h-39.0z"/>
<path d="M1254.1 1165.9l19.5 33.8h-39.0z"/>
<path d="M1262.5 1182.9l19.5 33.8h-39.0z"/>
<path d="M1270.9 1180.4l19.5 33.8h-39.0z"/>
<path d="M1279.3 1173.6l19.5 33.8h-39.0z"/>
<path d="M1287.7 1180.6l19.5 33.8h-39.0z"/>
<path d="M1296.1 1168.5l19.5 33.8h-39.0z"/>
<path d="M1304.5 1191.9l19.5 33.8h-39.0z"/>
<path d="M1312.9 1189.3l19.5 33.8h-39.0z"/>
<path d="M1321.3 1210.2l19.5 33.8h-39.0z"/>
<path d="M1329.7 1175.6l19.5 33.8h-39.0z"/>
<path d="M1338.1 1191.6l19.5 33.8h-39.0z"/>
<path d="M1346.5 1172.6l19.5 33.8h-39.0z"/>
<path d="M1354.9 1183.4l19.5 33.8h-39.0z"/>
<path d="M1363.3 1183.4l19.5 33.8h-39.0z"/>
<path d="M1371.7 1179.6l19.5 33.8h-39.0z"/>
<path d="M1380.1 1183.0l19.5 33.8h-39.0z"/>
<path d="M1388.5 1186.0l19.5 33.8h-39.0z"/>
<path d="M1396.9 1201.5l19.5 33.8h-39.0z"/>
<path d="M1405.3 1195.7l19.5 33.8h-39.0z"/>
<path d="M1413.7 1187.2l19.5 33.8h-39.0z"/>
<path d="M1422.1 1174.6l19.5 33.8h-39.0z"/>
<path d="M1430.5 1185.6l19.5 33.8h-39.0z"/>
<path d="M1438.9 1200.4l19.5 33.8h-39.0z"/>
<path d="M1447.3 1183.0l19.5 33.8h-39.0z"/>
<path d="M1455.7 1196.4l19.5 33.8h-39.0z"/>
<path d="M1464.1 1193.8l19.5 33.8h-39.0z"/>
<path d="M1472.5 1176.6l19.5 33.8h-39.0z"/>
<path d="M1480.9 1186.4l19.5 33.8h-39.0z"/>
<path d="M1489.3 1178.6l19.5 33.8h-39.0z"/>
<path d="M1497.7 1196.1l19.5 33.8h-39.0z"/>
<path d="M1506.1 1170.5l19.5 33.8h-39.0z"/>
<path d="M1514.5 1191.0l19.5 33.8h-39.0z"/>
<path d="M1522.9 1190.8l19.5 33.8h-39.0z"/>
<path d="M1531.3 1208.1l19.5 33.8h-39.0z"/>
<path d="M1539.7 1178.6l19.5 33.8h-39.0z"/>
<path d="M1548.1 1185.1l19.5 33.8h-39.0z"/>
<path d="M1556.5 1191.2l19.5 33.8h-39.0z"/>
<path d="M1564.9 1198.2l19.5 33.8h-39.0z"/>
<path d="M1573.3 1183.7l19.5 33.8h-39.0z"/>
<path d="M1581.7 1206.5l19.5 33.8h-39.0z"/>
<path d="M1590.1 1182.1l19.5 33.8h-39.0z"/>
<path d="M1598.5 1192.0l19.5 33.8h-39.0z"/>
<path d="M1606.9 1194.7l19.5 33.8h-39.0z"/>
<path d="M1615.3 1186.1l19.5 33.8h-39.0z"/>
<path d="M1623.7 1211.6l19.5 33.8h-39.0z"/>
<path d="M1632.1 1177.6l19.5 33.8h-39.0z"/>
<path d="M1640.5 1179.0l19.5 33.8h-39.0z"/>
<path d="M1648.9 1187.6l19.5 33.8h-39.0z"/>
<path d="M1657.3 1179.6l19.5 33.8h-39.0z"/>
<path d="M1665.7 1213.6l19.5 33.8h-39.0z"/>
<path d="M1674.1 1187.7l19.5 33.8h-39.0z"/>
<path d="M1682.5 1220.7l19.5 33.8h-39.0z"/>
<path d="M1690.9 1188.7l19.5 33.8h-39.0z"/>
<path d="M1699.3 1189.6l19.5 33.8h-39.0z"/>
<path d="M1707.7 1194.4l19.5 33.8h-39.0z"/>
<path d="M1716.1 1198.7l19.5 33.8h-39.0z"/>
<path d="M1724.5 1191.8l19.5 33.8h-39.0z"/>
<path d="M1732.9 1200.1l19.5 33.8h-39.0z"/>
<path d="M1741.3 1221.7l19.5 33.8h-39.0z"/>
<path d="M1749.7 1167.1l19.5 33.8h-39.0z"/>
<path d="M1758.1 1226.7l19.5 33.8h-39.0z"/>
<path d="M1766.5 1201.2l19.5 33.8h-39.0z"/>
<path d="M1774.9 1195.7l19.5 33.8h-39.0z"/>
<path d="M1783.3 1197.1l19.5 33.8h-39.0z"/>
<path d="M1791.7 1178.0l19.5 33.8h-39.0z"/>
<path d="M1800.1 1189.6l19.5 33.8h-39.0z"/>
<path d="M1808.5 1189.5l19.5 33.8h-39.0z"/>
<path d="M1816.9 1188.7l19.5 33.8h-39.0z"/>
<path d="M1825.3 1197.0l19.5 33.8h-39.0z"/>
<path d="M1833.7 1197.9l19.5 33.8h-39.0z"/>
<path d="M1842.1 1191.8l19.5 33.8h-39.0z"/>
<path d="M1850.5 1216.6l19.5 33.8h-39.0z"/>
<path d="M1858.9 1192.4l19.5 33.8h-39.0z"/>
<path d="M1867.3 1202.8l19.5 33.8h-39.0z"/>
<path d="M1875.7 1190.8l19.5 33.8h-39.0z"/>
<path d="M1884.1 1199.5l19.5 33.8h-39.0z"/>
<path d="M1892.5 1199.6l19.5 33.8h-39.0z"/>
<path d="M1900.9 1169.5l19.5 33.8h-39.0z"/>
<path d="M1909.3 1200.6l19.5 33.8h-39.0z"/>
<path d="M1917.7 1210.6l19.5 33.8h-39.0z"/>
<path d="M1926.1 1196.8l19.5 33.8h-39.0z"/>
<path d="M1934.5 1191.0l19.5 33.8h-39.0z"/>
</g>
</g>
<path d="M734.0 165.0H894.0" stroke="#000" stroke-width="6.5" stroke-linecap="round"/>
<rect x="799.5" y="151.0" width="28" height="28" fill="#000"/>
<path d="M734.0 252.6H894.0" stroke="#f00" stroke-width="6.5" stroke-linecap="round"/>
<circle cx="813.5" cy="252.6" r="14.8" fill="#f00"/>
<path d="M734.0 340.5H894.0" stroke="#00f" stroke-width="6.5" stroke-linecap="round"/>
<path d="M813.5 318.0l19.5 33.8h-39.0z" fill="#00f"/>
<text transform="translate(913.5 188.5) scale(1 1.04)" font-size="71.1" text-anchor="start" fill="#000">#0, Virgin</text>
<text transform="translate(913.5 276.1) scale(1 1.04)" font-size="71.1" text-anchor="start" fill="#000">#1, Conventional RIE</text>
<text transform="translate(913.5 364.0) scale(1 1.04)" font-size="71.1" text-anchor="start" fill="#000">#2, Modified RIE with O<tspan font-size="41.2" dy="26.7">2</tspan><tspan dy="-26.7"> added</tspan></text>
<g fill-opacity="0.36">
<rect x="285.0" y="79.0" width="205.2" height="1200.3" fill="rgb(197,208,216)"/>
<rect x="490.2" y="79.0" width="315.7" height="1200.3" fill="rgb(174,205,233)"/>
<rect x="805.9" y="79.0" width="1131.3" height="1200.3" fill="rgb(186,216,188)"/>
</g>
<g stroke="#1a1a1e" stroke-width="1.5" stroke-dasharray="3.5 0.9">
<path d="M490.2 79.0V1279.3"/>
<path d="M805.9 79.0V1279.3"/>
</g>
<text transform="translate(388.7 208.9) scale(1 1.04)" font-size="36.0" text-anchor="middle" fill="#000">Environment</text>
<text transform="translate(388.7 252.9) scale(1 1.04)" font-size="36.0" text-anchor="middle" fill="#000">influencing</text>
<text transform="translate(388.7 295.7) scale(1 1.04)" font-size="36.0" text-anchor="middle" fill="#000">zone</text>
<text transform="translate(530.3 846.0) scale(1 1.04)" font-size="36.0" text-anchor="start" fill="#000">Transition zone</text>
<text transform="translate(1260.0 972.6) scale(1 1.04)" font-size="36.0" text-anchor="start" fill="#000">Core zone</text>
<rect x="376" y="466.4" width="224.3" height="59.6" fill="#fff"/>
<rect x="683" y="648.1" width="224.1" height="59.7" fill="#fff"/>
<text transform="translate(487.6 511.8) scale(1 1.04)" font-size="53.5" text-anchor="middle" fill="#000">~10 nm</text>
<text transform="translate(794.8 694.0) scale(1 1.04)" font-size="53.5" text-anchor="middle" fill="#000">~25 nm</text>
<text transform="translate(261.0 105.9) scale(1 1.04)" font-size="77.5" text-anchor="end" fill="#000">10<tspan font-size="46.5" dy="-41.0">2</tspan></text>
<text transform="translate(261.0 347.1) scale(1 1.04)" font-size="77.5" text-anchor="end" fill="#000">10<tspan font-size="46.5" dy="-41.0">1</tspan></text>
<text transform="translate(261.0 588.3) scale(1 1.04)" font-size="77.5" text-anchor="end" fill="#000">10<tspan font-size="46.5" dy="-41.0">0</tspan></text>
<text transform="translate(261.0 829.5) scale(1 1.04)" font-size="77.5" text-anchor="end" fill="#000">10<tspan font-size="46.5" dy="-41.0">-1</tspan></text>
<text transform="translate(261.0 1070.7) scale(1 1.04)" font-size="77.5" text-anchor="end" fill="#000">10<tspan font-size="46.5" dy="-41.0">-2</tspan></text>
<text transform="translate(261.0 1311.9) scale(1 1.04)" font-size="77.5" text-anchor="end" fill="#000">10<tspan font-size="46.5" dy="-41.0">-3</tspan></text>
<text transform="translate(287.3 1369.3) scale(1 1.04)" font-size="77.5" text-anchor="middle" fill="#000">0</text>
<text transform="translate(596.4 1369.3) scale(1 1.04)" font-size="77.5" text-anchor="middle" fill="#000">15</text>
<text transform="translate(905.5 1369.3) scale(1 1.04)" font-size="77.5" text-anchor="middle" fill="#000">30</text>
<text transform="translate(1214.6 1369.3) scale(1 1.04)" font-size="77.5" text-anchor="middle" fill="#000">45</text>
<text transform="translate(1523.7 1369.3) scale(1 1.04)" font-size="77.5" text-anchor="middle" fill="#000">60</text>
<text transform="translate(1832.8 1369.3) scale(1 1.04)" font-size="77.5" text-anchor="middle" fill="#000">75</text>
<text transform="translate(1112.3 1496.6) scale(1 1.04)" font-size="78.0" text-anchor="middle" fill="#000">Depth, nm</text>
<text transform="translate(82.6 1157.3) rotate(-90) scale(1 1.04)" font-size="77.4" text-anchor="start" fill="#000">Normalized intensity of F</text>
</svg></body></html>
